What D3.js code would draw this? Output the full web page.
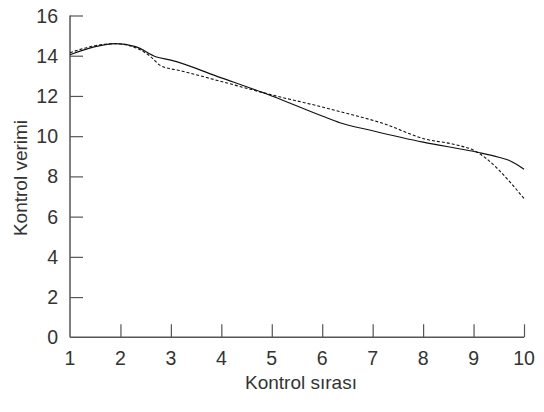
<!DOCTYPE html>
<html>
<head>
<meta charset="utf-8">
<script src="https://cdn.jsdelivr.net/npm/d3@7"></script>
<style>
  html, body { margin: 0; padding: 0; background: #fff; }
  text { font-family: "Liberation Sans", Arial, sans-serif; fill: #333; }
</style>
</head>
<body>
<svg id="chart" width="544" height="412"></svg>
<script>
// x positions (Kontrol sırası) and values for the solid curve
var solidX = [1, 1.5, 1.9, 2.3, 2.7, 3, 4, 5, 6, 6.35, 7, 8, 9.1, 9.5, 9.7, 9.85, 10];
var solidY = [14.05, 14.45, 14.6, 14.45, 13.95, 13.78, 12.9, 12.0, 11.0, 10.67, 10.27, 9.7, 9.19, 8.95, 8.8, 8.6, 8.35];

// dashed curve
var dashX = [1, 1.5, 1.9, 2.3, 2.6, 2.8, 3.2, 4, 5, 6, 6.35, 7.2, 8.05, 8.6, 9, 10];
var dashY = [14.15, 14.5, 14.6, 14.4, 13.95, 13.5, 13.25, 12.72, 12.05, 11.45, 11.22, 10.64, 9.85, 9.6, 9.3, 6.9];

var xTicks = [1, 2, 3, 4, 5, 6, 7, 8, 9, 10];
var yTicks = [0, 2, 4, 6, 8, 10, 12, 14, 16];

var svg = d3.select('#chart');

var x = d3.scaleLinear().domain([1, 10]).range([70, 524]);
var y = d3.scaleLinear().domain([0, 16]).range([337.3, 15.5]);

var axisColor = '#555';

// y axis: ticks pointing inward
var yAxis = svg.append('g')
    .attr('transform', 'translate(' + x(1) + ',0)')
    .call(d3.axisRight(y).tickValues(yTicks).tickSize(13).tickFormat(''));
yAxis.select('.domain').remove();
yAxis.selectAll('line').attr('stroke', axisColor).attr('stroke-width', 1.2)
    .filter(function (d) { return d === 0; }).remove();
svg.append('line')
    .attr('x1', x(1)).attr('x2', x(1))
    .attr('y1', y(16)).attr('y2', y(0))
    .attr('stroke', axisColor).attr('stroke-width', 1.5);

svg.selectAll('.ylab')
    .data(yTicks)
    .enter()
    .append('text')
    .attr('class', 'ylab')
    .attr('x', x(1) - 12)
    .attr('y', function (d) { return y(d); })
    .attr('dy', '0.36em')
    .attr('text-anchor', 'end')
    .style('font-size', '19.5px')
    .text(function (d) { return d; });

// x axis: ticks pointing up
var xAxis = svg.append('g')
    .attr('transform', 'translate(0,' + y(0) + ')')
    .call(d3.axisTop(x).tickValues(xTicks).tickSize(13).tickFormat(''));
xAxis.select('.domain').remove();
xAxis.selectAll('line').attr('stroke', axisColor).attr('stroke-width', 1.2)
    .filter(function (d) { return d === 1; }).remove();
svg.append('line')
    .attr('x1', x(1)).attr('x2', x(10))
    .attr('y1', y(0)).attr('y2', y(0))
    .attr('stroke', axisColor).attr('stroke-width', 1.5);

svg.selectAll('.xlab')
    .data(xTicks)
    .enter()
    .append('text')
    .attr('class', 'xlab')
    .attr('x', function (d) { return x(d); })
    .attr('y', 365)
    .attr('text-anchor', 'middle')
    .style('font-size', '19.5px')
    .text(function (d) { return d; });

// axis titles
svg.append('text')
    .attr('x', 301)
    .attr('y', 389)
    .attr('text-anchor', 'middle')
    .style('font-size', '19px')
    .text('Kontrol sırası');

svg.append('text')
    .attr('transform', 'translate(27,178) rotate(-90)')
    .attr('text-anchor', 'middle')
    .style('font-size', '19px')
    .text('Kontrol verimi');

// curves
var line = d3.line()
    .x(function (d) { return x(d[0]); })
    .y(function (d) { return y(d[1]); })
    .curve(d3.curveMonotoneX);

svg.append('path')
    .datum(d3.zip(solidX, solidY))
    .attr('d', line)
    .attr('fill', 'none')
    .attr('stroke', '#111')
    .attr('stroke-width', 1.2);

svg.append('path')
    .datum(d3.zip(dashX, dashY))
    .attr('d', line)
    .attr('fill', 'none')
    .attr('stroke', '#111')
    .attr('stroke-width', 1.1)
    .attr('stroke-dasharray', '3,2');
</script>
</body>
</html>
